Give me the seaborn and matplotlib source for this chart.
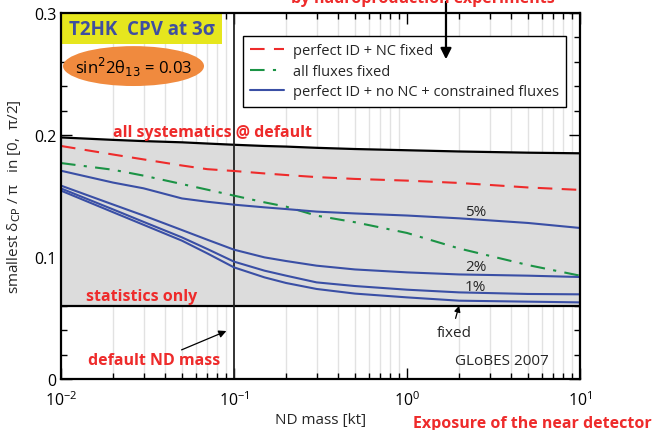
import numpy as np
import pandas as pd
import seaborn as sns
import matplotlib
matplotlib.use("Agg")
import matplotlib.pyplot as plt
from matplotlib.patches import Ellipse, Rectangle
from matplotlib.ticker import FixedLocator, FixedFormatter, LogLocator, NullFormatter

# ---------------- data ----------------
nd_mass = [0.01, 0.02, 0.03, 0.05, 0.07, 0.1, 0.15, 0.2, 0.3, 0.5, 1, 2, 5, 10]
all_sys_default = [0.198, 0.196, 0.195, 0.194, 0.193, 0.192, 0.191, 0.1905, 0.1895, 0.1885,
                   0.1875, 0.1865, 0.1855, 0.185]
perfect_id_nc_fixed = [0.191, 0.184, 0.180, 0.175, 0.172, 0.1705, 0.1685, 0.1672, 0.1655, 0.164,
                       0.1626, 0.1607, 0.157, 0.155]
all_fluxes_fixed = [0.177, 0.1715, 0.1667, 0.1598, 0.1552, 0.1503, 0.1448, 0.1413, 0.1339, 0.1285,
                    0.1197, 0.107, 0.0934, 0.0847]
flux_5pct = [0.1707, 0.161, 0.1563, 0.148, 0.1453, 0.1429, 0.1407, 0.1393, 0.1372, 0.1357,
             0.134, 0.1317, 0.1279, 0.1238]
flux_2pct = [0.1585, 0.143, 0.134, 0.1221, 0.1142, 0.106, 0.0997, 0.0967, 0.0929, 0.0898,
             0.0874, 0.0857, 0.0847, 0.0836]
flux_1pct = [0.1562, 0.139, 0.1288, 0.1161, 0.1066, 0.0962, 0.0888, 0.0847, 0.0792, 0.0762,
             0.0732, 0.071, 0.0697, 0.0694]
flux_fixed = [0.1544, 0.1367, 0.1264, 0.1134, 0.103, 0.0915, 0.0833, 0.0787, 0.0738, 0.0700,
              0.0669, 0.0642, 0.0634, 0.0628]
statistics_only = 0.0595
default_nd_mass = 0.1

legend_labels = ["perfect ID + NC fixed", "all fluxes fixed",
                 "perfect ID + no NC + constrained fluxes"]
curve_labels = ["5%", "2%", "1%"]
y_ticks = [0, 0.1, 0.2, 0.3]
y_tick_labels = ["0", "0.1", "0.2", "0.3"]

RED = "#ee2b2b"
GREEN = "#1b9345"
BLUE = "#3a4fa5"
FILL = "#dcdcdc"

sns.set_style("ticks")
plt.rcParams["font.family"] = ["Open Sans", "DejaVu Sans"]
plt.rcParams["mathtext.fontset"] = "dejavusans"

fig = plt.figure(figsize=(6.57, 4.31), dpi=100)
ax = fig.add_axes([61 / 657, 51 / 431, 519 / 657, 366 / 431])
ax.set_xscale("log")
ax.set_xlim(0.01, 10)
ax.set_ylim(0, 0.3)

# grid lines at minor log positions
for dec in [0.01, 0.1, 1]:
    for k in range(2, 10):
        ax.axvline(dec * k, color="#e2e2e2", lw=1.0, zorder=0)

ax.fill_between(nd_mass, statistics_only, all_sys_default, color=FILL, zorder=1, lw=0)

sns.lineplot(x=nd_mass, y=all_sys_default, color="black", lw=1.6, ax=ax, zorder=3)
ax.axhline(statistics_only, color="black", lw=1.6, zorder=3)
ax.axvline(default_nd_mass, color="#222222", lw=1.3, zorder=3)

sns.lineplot(x=nd_mass, y=perfect_id_nc_fixed, color=RED, lw=1.5, ax=ax, zorder=4)
ax.lines[-1].set_dashes([7, 4.5])
red_line = ax.lines[-1]
sns.lineplot(x=nd_mass, y=all_fluxes_fixed, color=GREEN, lw=1.5, ax=ax, zorder=4)
ax.lines[-1].set_dashes([7, 4, 1.5, 4])
green_line = ax.lines[-1]
blue_lines = []
for ser in [flux_5pct, flux_2pct, flux_1pct, flux_fixed]:
    sns.lineplot(x=nd_mass, y=ser, color=BLUE, lw=1.5, ax=ax, zorder=4)
    blue_lines.append(ax.lines[-1])

# ticks
ax.yaxis.set_major_locator(FixedLocator(y_ticks))
ax.yaxis.set_major_formatter(FixedFormatter(y_tick_labels))
ax.yaxis.set_minor_locator(FixedLocator(np.arange(0, 0.301, 0.02)))
ax.xaxis.set_minor_locator(LogLocator(base=10, subs=np.arange(2, 10)))
ax.xaxis.set_minor_formatter(NullFormatter())
ax.tick_params(which="both", direction="in", top=True, right=True, colors="black",
               labelsize=11.5, width=1.0)
ax.tick_params(which="major", length=8)
ax.tick_params(which="minor", length=4)
ax.tick_params(axis="x", pad=8)
for s in ax.spines.values():
    s.set_linewidth(1.6)
    s.set_color("black")
    s.set_zorder(6)

ax.set_xlabel("ND mass [kt]", fontsize=11, labelpad=2)
ax.set_ylabel(r"smallest δ$_{\rm CP}$ / π   in [0,  π/2]", fontsize=11, labelpad=8)

# legend
leg = ax.legend([red_line, green_line, blue_lines[0]], legend_labels,
                loc="upper left", bbox_to_anchor=(0.351, 0.937), fontsize=10.5,
                frameon=True, fancybox=False, edgecolor="black", framealpha=1,
                handlelength=2.3, labelspacing=0.38, borderpad=0.5, handletextpad=0.6,
                borderaxespad=0)
leg.get_frame().set_linewidth(1.0)
leg.set_zorder(7)

# title box and ellipse
ax.add_patch(Rectangle((0, 0.915), 0.31, 0.085, transform=ax.transAxes,
                       facecolor="#e6e61e", edgecolor="none", zorder=5))
ax.text(0.156, 0.956, "T2HK  CPV at 3σ", transform=ax.transAxes, ha="center", va="center",
        color="#3f4ea0", fontsize=13.5, fontweight="bold", zorder=6)
ax.add_patch(Ellipse((0.1397, 0.855), 0.2717, 0.109, transform=ax.transAxes,
                     facecolor="#f08a3e", edgecolor="none", zorder=5))
ax.text(0.1397, 0.855, r"sin$^2$2θ$_{13}$ = 0.03", transform=ax.transAxes, ha="center",
        va="center", fontsize=12, color="black", zorder=6)

# annotations
bold_red = dict(color=RED, fontweight="bold", fontsize=11.5, ha="center", va="center", zorder=6)
ax.text(0.0756, 0.2025, "all systematics @ default", **bold_red)
ax.text(0.0294, 0.068, "statistics only", **bold_red)
ax.text(0.0345, 0.0156, "default ND mass", **bold_red)
ax.annotate("", xy=(0.0935, 0.0402), xytext=(0.0481, 0.023),
            arrowprops=dict(arrowstyle="-|>", color="black", lw=0.9, mutation_scale=11))

ax.text(1.87, 0.0385, "fixed", ha="center", va="center", fontsize=11, zorder=6)
ax.annotate("", xy=(2.02, 0.0623), xytext=(1.89, 0.0475),
            arrowprops=dict(arrowstyle="-|>", color="black", lw=0.9, mutation_scale=9))
ax.text(3.54, 0.0148, "GLoBES 2007", ha="center", va="center", fontsize=11, zorder=6)
for lab, yy in zip(curve_labels, [0.1377, 0.0926, 0.0762]):
    ax.text(2.5, yy, lab, ha="center", va="center", fontsize=11, zorder=5)

fig.text(0.811, 0.016, "Exposure of the near detector", color=RED, fontweight="bold",
         fontsize=11.5, ha="center", va="center")
fig.text(423 / 657, 0.993, "by hadroproduction experiments", color=RED, fontweight="bold",
         fontsize=11.5, ha="center", va="baseline")
ax.annotate("", xy=(1.68, 0.2598), xytext=(446 / 657, 1.0), xycoords="data",
            textcoords="figure fraction",
            arrowprops=dict(arrowstyle="-|>", color="black", lw=1.6, mutation_scale=16),
            annotation_clip=False, zorder=8)

fig.savefig("out.png", dpi=100)
